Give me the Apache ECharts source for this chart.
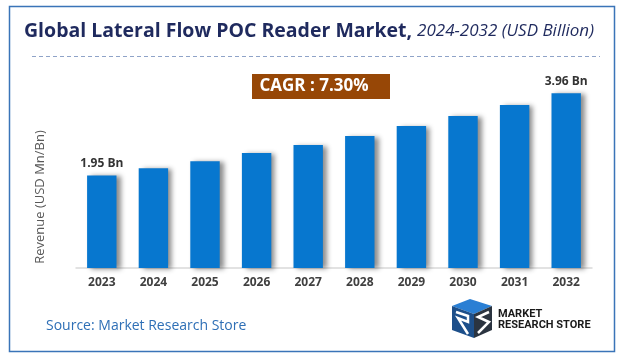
<!DOCTYPE html>
<html>
<head>
<meta charset="utf-8">
<script src="https://cdn.jsdelivr.net/npm/echarts@6/dist/echarts.min.js"></script>
<style>html,body{margin:0;padding:0;background:#fff;}#chart{width:623px;height:363px;}</style>
</head>
<body>
<div id="chart"></div>
<script>
var categories = ['2023','2024','2025','2026','2027','2028','2029','2030','2031','2032'];
var revenue = [1.95, 2.10, 2.25, 2.42, 2.59, 2.78, 2.99, 3.20, 3.43, 3.68];
var barLabels = ['1.95 Bn','','','','','','','','','3.96 Bn'];
var titleMain = 'Global Lateral Flow POC Reader Market,';
var titleSub = '2024-2032 (USD Billion)';
var yAxisName = 'Revenue (USD Mn/Bn)';
var cagrText = 'CAGR : 7.30%';
var sourceText = 'Source: Market Research Store';

var chart = echarts.init(document.getElementById('chart'));
var font = '"Open Sans", sans-serif';
chart.setOption({
  animation: false,
  backgroundColor: '#ffffff',
  title: {
    text: '{a|' + titleMain + '} {b|' + titleSub + '}',
    left: 19, top: 16,
    textStyle: {
      rich: {
        a: { fontFamily: font, fontWeight: 'bold', fontSize: 19.5, color: '#1f2a5e' },
        b: { fontFamily: font, fontStyle: 'italic', fontWeight: 'normal', fontSize: 17, color: '#1f2a5e' }
      }
    }
  },
  grid: { left: 76, right: 31, top: 78, bottom: 95 },
  xAxis: {
    type: 'category',
    data: categories,
    axisLine: { lineStyle: { color: '#d9d9d9', width: 1.5 } },
    axisTick: { show: false },
    axisLabel: { color: '#404040', fontWeight: 'bold', fontFamily: font, fontSize: 12, margin: 9 }
  },
  yAxis: {
    type: 'value', min: 0, max: 4,
    axisLine: { show: false }, axisTick: { show: false }, axisLabel: { show: false },
    splitLine: { show: false }
  },
  series: [{
    type: 'bar',
    data: revenue,
    barCategoryGap: '43%',
    itemStyle: {
      color: '#0777cf',
      shadowColor: 'rgba(0,0,0,0.45)', shadowBlur: 5, shadowOffsetX: 4, shadowOffsetY: 1
    },
    label: {
      show: true, position: 'top', distance: 6,
      color: '#333333', fontWeight: 'bold', fontFamily: font, fontSize: 12,
      formatter: function (p) { return barLabels[p.dataIndex]; }
    }
  }],
  graphic: [
    { type: 'rect', shape: { x: 9.5, y: 6.5, width: 605, height: 345 }, style: { fill: 'none', stroke: '#3a74b8', lineWidth: 1.5 }, silent: true },
    { type: 'line', shape: { x1: 32, y1: 56.5, x2: 600, y2: 56.5 }, style: { stroke: '#8fa3c8', lineWidth: 1, lineDash: [4, 3] } },
    { type: 'text', x: 40, y: 197, rotation: Math.PI / 2, style: { text: yAxisName, x: 0, y: 0, align: 'center', verticalAlign: 'middle', fill: '#595959', font: '13px "Open Sans", sans-serif' } },
    { type: 'rect', shape: { x: 252, y: 74, width: 138, height: 25 }, style: { fill: '#974706' } },
    { type: 'text', style: { text: cagrText, x: 314, y: 86.5, align: 'center', verticalAlign: 'middle', fill: '#ffffff', font: 'bold 17px "Open Sans", sans-serif' } },
    { type: 'text', style: { text: sourceText, x: 46, y: 326, verticalAlign: 'middle', fill: '#2e6fb6', font: '14px "Open Sans", sans-serif' } },
    { type: 'polygon', shape: { points: [[452,306],[470,299],[492,306],[474,314]] }, style: { fill: '#2a7fd4' } },
    { type: 'polygon', shape: { points: [[452,306],[474,314],[474,338],[452,330]] }, style: { fill: '#1d4f8a' } },
    { type: 'polygon', shape: { points: [[474,314],[492,306],[492,330],[474,338]] }, style: { fill: '#2b3440' } },
    { type: 'polyline', shape: { points: [[456,312],[468,316],[468,322],[458,318],[468,334]] }, style: { stroke: '#ffffff', lineWidth: 2.5, fill: 'none' } },
    { type: 'polyline', shape: { points: [[489,312],[478,317],[489,322],[478,333]] }, style: { stroke: '#ffffff', lineWidth: 2.5, fill: 'none' } },
    { type: 'text', style: { text: 'MARKET', x: 498, y: 314, verticalAlign: 'middle', fill: '#1a1a1a', font: 'bold 11px Roboto, sans-serif' } },
    { type: 'text', style: { text: 'RESEARCH STORE', x: 498, y: 325, verticalAlign: 'middle', fill: '#1a1a1a', font: 'bold 11px Roboto, sans-serif' } }
  ]
});
</script>
</body>
</html>
